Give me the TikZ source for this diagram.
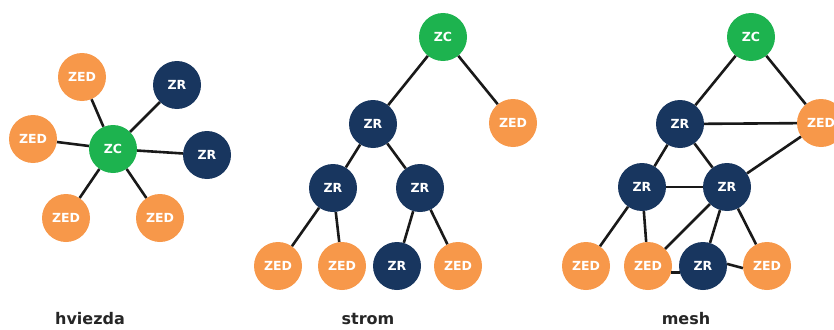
\documentclass[tikz,border=0pt]{standalone}
\usepackage{fontspec}
\setmainfont{DejaVu Sans}
\begin{document}
\begin{tikzpicture}[x=1pt,y=-1pt,
  dev/.style={circle,minimum size=48pt,inner sep=0pt,text=white,font=\bfseries\fontsize{12.5}{14}\selectfont},
  zc/.style={dev,fill=zcgreen},
  zr/.style={dev,fill=zrnavy},
  zed/.style={dev,fill=zedorange},
  link/.style={line width=2.6pt,black!90},
  caption/.style={font=\bfseries\fontsize{16}{18}\selectfont,text=black!85}]
\definecolor{zcgreen}{HTML}{1DB34F}
\definecolor{zrnavy}{HTML}{18365F}
\definecolor{zedorange}{HTML}{F7984A}
\useasboundingbox (0,0) rectangle (834,329);

% ---- star ----
\node[zc]  (s0) at (113,149) {ZC};
\node[zed] (s1) at (82,77)   {ZED};
\node[zr]  (s2) at (177,85)  {ZR};
\node[zed] (s3) at (33,139)  {ZED};
\node[zr]  (s4) at (207,155) {ZR};
\node[zed] (s5) at (66,218)  {ZED};
\node[zed] (s6) at (160,218) {ZED};
\foreach \n in {s1,s2,s3,s4,s5,s6} \draw[link] (s0) -- (\n);

% ---- tree ----
\node[zc]  (t0) at (443,37)  {ZC};
\node[zed] (t1) at (513,123) {ZED};
\node[zr]  (t2) at (373,124) {ZR};
\node[zr]  (t3) at (333,188) {ZR};
\node[zr]  (t4) at (420,188) {ZR};
\node[zed] (t5) at (278,266) {ZED};
\node[zed] (t6) at (342,266) {ZED};
\node[zr]  (t7) at (397,266) {ZR};
\node[zed] (t8) at (458,266) {ZED};
\draw[link] (t0) -- (t1);
\draw[link] (t0) -- (t2);
\draw[link] (t2) -- (t3);
\draw[link] (t2) -- (t4);
\draw[link] (t3) -- (t5);
\draw[link] (t3) -- (t6);
\draw[link] (t4) -- (t7);
\draw[link] (t4) -- (t8);

% ---- mesh ----
\node[zc]  (m0) at (751,37)  {ZC};
\node[zed] (m1) at (821,123) {ZED};
\node[zr]  (m2) at (680,124) {ZR};
\node[zr]  (m3) at (642,187) {ZR};
\node[zr]  (m4) at (727,187) {ZR};
\node[zed] (m5) at (586,266) {ZED};
\node[zed] (m6) at (648,266) {ZED};
\node[zr]  (m7) at (703,266) {ZR};
\node[zed] (m8) at (767,266) {ZED};
\draw[link] (m0) -- (m1);
\draw[link] (m0) -- (m2);
\draw[link] (m2) -- (m1);
\draw[link] (m2) -- (m3);
\draw[link] (m2) -- (m4);
\draw[link] (m3) -- (m4);
\draw[link] (m4) -- (m1);
\draw[link] (m3) -- (m5);
\draw[link] (m3) -- (m6);
\draw[link] (m4) -- (m6);
\draw[link] (m4) -- (m7);
\draw[link] (m4) -- (m8);
\draw[link] (m6.-15) -- (m7.-165);
\draw[link] (m7.5) -- (m8.185);

% ---- captions ----
\node[caption] (c1) at (90,319)  {hviezda};
\node[caption] (c2) at (368,319) {strom};
\node[caption] (c3) at (686,319) {mesh};
\end{tikzpicture}
\end{document}
